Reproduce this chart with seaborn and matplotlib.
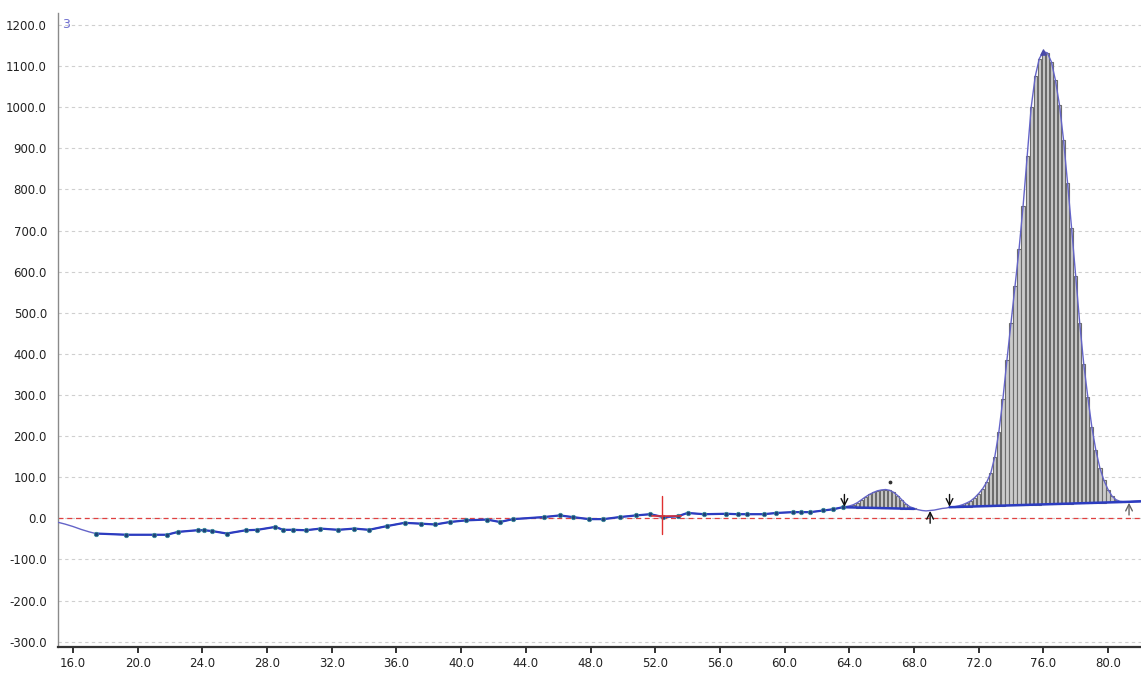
import numpy as np
import pandas as pd
import matplotlib
matplotlib.use("Agg")
import matplotlib.pyplot as plt
import seaborn as sns

# Melt-curve derivative trace (temperature in degC, signal in RFU)
lead_temp = [15.1, 15.5, 16.0, 16.5, 17.0, 17.4]
lead_rfu = [-10, -14, -20, -27, -33, -37]

read_temp = [17.4, 19.3, 21.0, 21.8, 22.5, 23.7, 24.1, 24.6, 25.5, 26.7,
             27.4, 28.5, 29.0, 29.6, 30.4, 31.3, 32.4, 33.4, 34.3, 35.4,
             36.5, 37.5, 38.4, 39.3, 40.3, 41.6, 42.4, 43.2, 45.1, 46.1,
             46.9, 47.9, 48.8, 49.8, 50.8, 51.7, 52.5, 53.4, 54.0, 55.0,
             56.4, 57.1, 57.7, 58.7, 59.5, 60.5, 61.0, 61.6, 62.4, 63.0,
             63.6]
read_rfu = [-37, -40, -40, -40, -33, -29, -29, -31, -37, -29,
            -28, -21, -28, -28, -29, -25, -28, -25, -28, -19,
            -11, -13, -15, -9, -5, -3, -9, -2, 3, 7,
            3, -2, -2, 3, 7, 10, 3, 5, 13, 10,
            11, 10, 10, 10, 13, 15, 15, 15, 19, 22,
            27]

melt_temp = np.round(np.arange(64.0, 82.01, 0.25), 2)
melt_rfu = [30, 33, 38, 45, 52, 58, 63, 67, 69, 70, 68, 63, 55, 45, 35, 28, 24,
            21, 19, 18, 19, 20, 22, 24, 25,
            27, 28, 30, 33, 37, 42, 50, 60, 72, 88, 110, 150, 210, 290, 385,
            475, 565, 655, 760, 880, 1000, 1075, 1118, 1135, 1132, 1110, 1065,
            1005, 920, 815, 705, 590, 475, 375, 295, 222, 165, 122, 92, 70,
            54, 45, 41, 40, 40, 41, 42, 43]

# Peak integration baselines (start / end of each peak)
small_base_temp = [63.6, 68.0]
small_base_rfu = [27, 23]
large_base_temp = [70.2, 82.0]
large_base_rfu = [27, 41]

# Peak boundary markers: temperature, rfu at tip, direction
arrow_temp = [63.7, 69.0, 70.2, 81.3]
arrow_rfu = [28, 18, 28, 38]
arrow_dir = ["down", "up", "down", "up"]

# Cursor crosshair
cursor_temp = 52.4
cursor_rfu = 5

y_ticks = [-300, -200, -100, 0, 100, 200, 300, 400, 500, 600, 700, 800,
           900, 1000, 1100, 1200]
x_ticks = [16, 20, 24, 28, 32, 36, 40, 44, 48, 52, 56, 60, 64, 68, 72, 76, 80]
trace_label = "3"

sns.set_theme(style="white")
plt.rcParams["font.family"] = ["DejaVu Sans"]

fig = plt.figure(figsize=(11.41, 6.73), dpi=100)
ax = fig.add_axes([58 / 1141, 26 / 673, 1083 / 1141, 634 / 673])

# grid
for yv in y_ticks:
    ax.axhline(yv, color="#cfcfcf", lw=0.8, ls=(0, (3, 3)), zorder=0)
ax.axhline(0, color="#e04040", lw=0.9, ls=(0, (4, 3)), zorder=1)

# hatched peak areas
def peak_bars(t_lo, t_hi, bt, br):
    mask = (melt_temp >= t_lo) & (melt_temp <= t_hi)
    xs = melt_temp[mask]
    ys = np.asarray(melt_rfu)[mask]
    base = np.interp(xs, bt, br)
    keep = ys > base
    ax.bar(xs[keep], ys[keep] - base[keep], bottom=base[keep], width=0.2,
           color="#cbcbcb", edgecolor="#6c6c6c", linewidth=0.8, zorder=2)

peak_bars(small_base_temp[0], small_base_temp[1], small_base_temp, small_base_rfu)
peak_bars(large_base_temp[0], 81.3, large_base_temp, large_base_rfu)

# full trace (thin)
trace = pd.DataFrame({
    "temp": list(lead_temp) + list(read_temp[1:]) + list(melt_temp),
    "rfu": list(lead_rfu) + list(read_rfu[1:]) + list(melt_rfu),
})
sns.lineplot(data=trace, x="temp", y="rfu", ax=ax, sort=False,
             color="#6464c8", lw=1.0, zorder=3)

# sampled reads (thick with points)
reads = pd.DataFrame({"temp": read_temp, "rfu": read_rfu})
sns.lineplot(data=reads, x="temp", y="rfu", ax=ax, sort=False,
             color="#2c3cc0", lw=1.6, zorder=4)
sns.scatterplot(data=reads, x="temp", y="rfu", ax=ax, s=10,
                color="#1f3f7a", edgecolor="#3a8a9a", linewidth=0.6, zorder=5)

# baselines under peaks
ax.plot(small_base_temp, small_base_rfu, color="#2c3cc0", lw=1.8, zorder=4)
ax.plot(large_base_temp, large_base_rfu, color="#2c3cc0", lw=1.8, zorder=4)

# peak top marker
top_i = int(np.argmax(melt_rfu))
ax.scatter([melt_temp[top_i]], [melt_rfu[top_i]], s=14, marker="^",
           color="#4a4aa8", zorder=6)
ax.scatter([66.5], [88], s=3, color="#333333", zorder=6)

# arrows marking peak limits
for t, r, d in zip(arrow_temp, arrow_rfu, arrow_dir):
    start = r + 30 if d == "down" else r - 30
    col = "#111111" if t < 80 else "#666666"
    ax.annotate("", xy=(t, r), xytext=(t, start),
                arrowprops=dict(arrowstyle="->", color=col, lw=1.0,
                                shrinkA=0, shrinkB=0), zorder=7)

# cursor cross
ax.plot([cursor_temp, cursor_temp], [cursor_rfu - 42, cursor_rfu + 50],
        color="#e03030", lw=1.0, zorder=6)
ax.plot([cursor_temp - 0.6, cursor_temp + 1.2], [cursor_rfu, cursor_rfu],
        color="#e03030", lw=1.4, alpha=0.8, zorder=6)

ax.text(15.35, 1200, trace_label, color="#7070d0", fontsize=9,
        va="center", ha="left")

ax.set_xlim(15.07, 82.04)
ax.set_ylim(-313, 1229)
ax.set_xticks(x_ticks)
ax.set_xticklabels([f"{v:.1f}" for v in x_ticks])
ax.set_yticks(y_ticks)
ax.set_yticklabels([f"{v:.1f}" for v in y_ticks])
ax.tick_params(axis="x", direction="out", length=4, width=1.4,
               color="#333333", labelsize=8.5, labelcolor="#222222", pad=3,
               bottom=True)
ax.tick_params(axis="y", length=0, labelsize=8.5, labelcolor="#222222", pad=8)
ax.set_xlabel("")
ax.set_ylabel("")
ax.grid(False)

for side in ("top", "right"):
    ax.spines[side].set_visible(False)
ax.spines["left"].set_color("#8a8a8a")
ax.spines["left"].set_linewidth(1.0)
ax.spines["bottom"].set_color("#333333")
ax.spines["bottom"].set_linewidth(1.6)

fig.savefig("out.png", dpi=100, facecolor="white")
